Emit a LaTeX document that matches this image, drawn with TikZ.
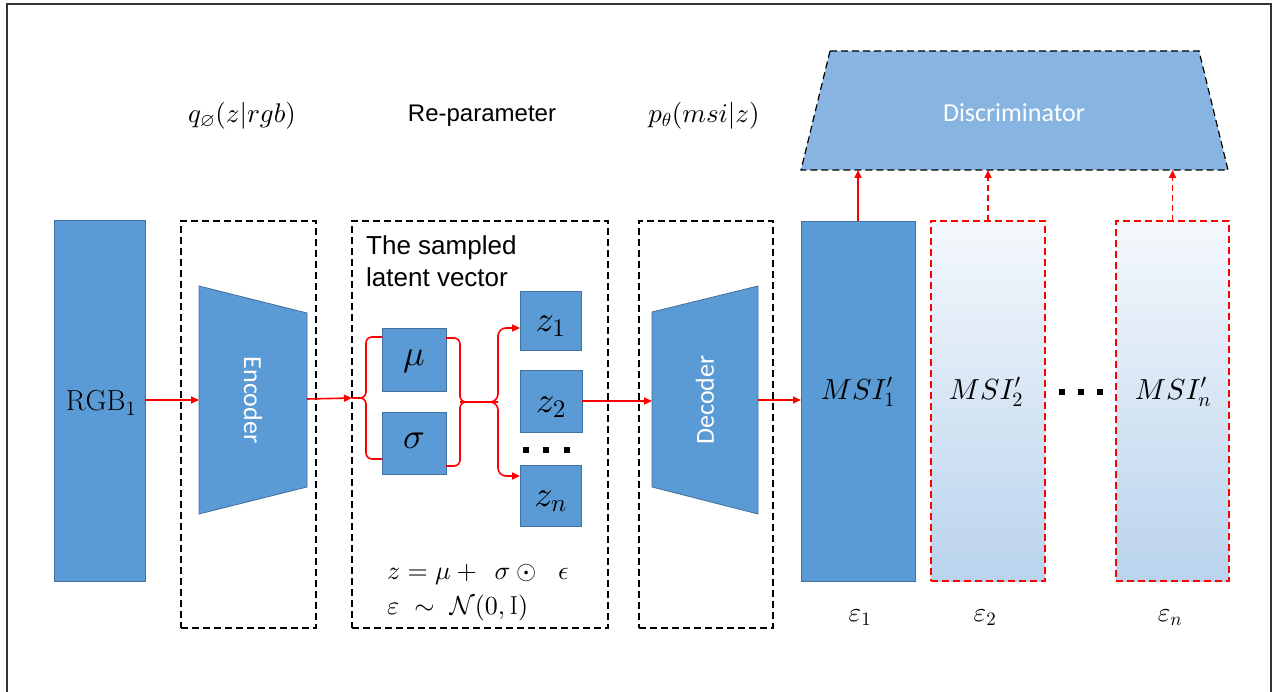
\documentclass[tikz,border=0pt]{standalone}
\usepackage{amssymb}
\usepackage{fontspec}
\DeclareFontShape{OML}{cmm}{m}{it}{<->cmmi10}{}
\DeclareFontShape{OMS}{cmsy}{m}{n}{<->cmsy10}{}
\DeclareFontShape{OT1}{cmr}{m}{n}{<->cmr10}{}
\newfontfamily\calib{Carlito}
\newfontfamily\arialf{Liberation Sans}
\usetikzlibrary{arrows.meta,calc}
\definecolor{boxblue}{HTML}{5B9BD5}
\definecolor{boxedge}{HTML}{41719C}
\definecolor{discblue}{HTML}{87B4E0}
\definecolor{gradtop}{HTML}{F4F8FC}
\definecolor{gradbot}{HTML}{BAD3ED}
\definecolor{framegray}{HTML}{333333}
\begin{document}
\begin{tikzpicture}[x=1pt,y=-1pt,
  solidbox/.style={draw=boxedge, fill=boxblue, line width=0.8pt, inner sep=0pt, outer sep=0pt},
  groupbox/.style={draw=black, line width=1.2pt, dash pattern=on 7pt off 4pt, inner sep=0pt, outer sep=0pt},
  msibox/.style={draw=red, line width=1.3pt, dash pattern=on 7pt off 4pt, top color=gradtop, bottom color=gradbot, inner sep=0pt, outer sep=0pt},
  redarrow/.style={draw=red, line width=1.6pt, -{Triangle[length=8pt,width=7pt]}},
  redline/.style={draw=red, line width=1.6pt},
  dotsq/.style={fill=black, minimum width=6pt, minimum height=6pt, inner sep=0pt},
  bigmath/.style={font=\fontsize{29}{32}\selectfont},
  boxmath/.style={font=\fontsize{36}{40}\selectfont},
  labmath/.style={font=\fontsize{27}{30}\selectfont},
  eqmath/.style={font=\fontsize{26}{30}\selectfont},
  sanslab/.style={font=\arialf\fontsize{26}{32}\selectfont},
  whitelab/.style={text=white, font=\calib\fontsize{26}{30}\selectfont},
  trap/.style={fill=boxblue, draw=boxedge, line width=0.8pt}
]
\useasboundingbox (0,0) rectangle (1273,692);
\fill[white] (0,0) rectangle (1273,692);
\draw[framegray, line width=2pt] (7,692) -- (7,4) -- (1271,4) -- (1271,692);

% group boxes
\node[groupbox, minimum width=135pt, minimum height=407pt] (encbox) at (248.5,424.5) {};
\node[groupbox, minimum width=256pt, minimum height=407pt] (repbox) at (480,424.5) {};
\node[groupbox, minimum width=134pt, minimum height=407pt] (decbox) at (706,424.5) {};

% input
\node[solidbox, minimum width=91pt, minimum height=361pt] (rgb) at (99.5,400.5) {};
\node[bigmath] (rgbt) at (101,403) {$\mathrm{RGB}_1$};

% encoder
\draw[trap] (199,286) -- (307,313) -- (307,487) -- (199,514) -- cycle;
\node[whitelab, rotate=-90] (enct) at (253,400) {Encoder};
\coordinate (encL) at (199,400);
\coordinate (encR) at (307,399);

% decoder
\draw[trap] (652,312) -- (758,286) -- (758,514) -- (652,487) -- cycle;
\node[whitelab, rotate=90] (dect) at (705,400) {Decoder};
\coordinate (decL) at (652,400);
\coordinate (decR) at (758,400);

% outputs
\node[solidbox, minimum width=114pt, minimum height=360pt] (msi1) at (858,401) {};
\node[msibox, minimum width=114pt, minimum height=360pt] (msi2) at (988,401) {};
\node[msibox, minimum width=113pt, minimum height=360pt] (msin) at (1172.5,401) {};
\node[bigmath] (msi1t) at (858,392) {$MSI_1'$};
\node[bigmath] (msi2t) at (986,392) {$MSI_2'$};
\node[bigmath] (msint) at (1173,392) {$MSI_n'$};
\node[dotsq] (md1) at (1062,392) {};
\node[dotsq] (md2) at (1081,392) {};
\node[dotsq] (md3) at (1100,392) {};

% reparameter contents
\node[anchor=north west, align=left, sanslab, inner sep=0pt] (samp) at (366,235) {The sampled\\latent vector};
\node[solidbox, minimum width=64pt, minimum height=63pt] (mu) at (414,359.5) {};
\node[solidbox, minimum width=64pt, minimum height=62pt] (sigma) at (414,443) {};
\node[boxmath] (mut) at (414,361) {$\mu$};
\node[boxmath] (sigmat) at (414,441) {$\sigma$};
\node[solidbox, minimum width=61pt, minimum height=59pt] (z1) at (550.5,320.5) {};
\node[solidbox, minimum width=62pt, minimum height=62pt] (z2) at (551,401) {};
\node[solidbox, minimum width=61pt, minimum height=61pt] (zn) at (550.5,495.5) {};
\node[boxmath] (z1t) at ($(z1)+(0,6)$) {$z_1$};
\node[boxmath] (z2t) at ($(z2)+(0,6)$) {$z_2$};
\node[boxmath] (znt) at ($(zn)+(0,6)$) {$z_n$};
\node[dotsq] (zd1) at (526,450) {};
\node[dotsq] (zd2) at (546,450) {};
\node[dotsq] (zd3) at (567,450) {};
\node[eqmath, anchor=west, inner sep=0pt] (eq1) at (387,574) {$z = \mu + \hspace{12pt}\sigma \odot \hspace{16pt}\epsilon$};
\node[eqmath, anchor=west, inner sep=0pt] (eq2) at (387,608) {$\varepsilon\ \sim\ \mathcal{N}(0,\mathrm{I})$};

% braces and arrows
\coordinate (lbtip) at (352,398);
\coordinate (lb) at (366,398);
\coordinate (rb) at (460,402);
\coordinate (split) at (498,402);
\draw[redarrow] (encR) -- (lbtip);
\draw[redarrow] (rgb.east |- encL) -- (encL);
\draw[redline, rounded corners=6pt] ($(mu.north west)+(0,9)$) -| (lb) -- (lbtip);
\draw[redline, rounded corners=6pt] ($(sigma.south west)+(0,-15)$) -| (lb) -- (lbtip);
\draw[redline, rounded corners=6pt] ($(mu.north east)+(0,10)$) -| (rb) -- (split);
\draw[redline, rounded corners=6pt] ($(sigma.south east)+(0,-8)$) -| (rb) -- (split);
\draw[redarrow, rounded corners=8pt] (rb) -- (split) |- ($(z1.west)+(0,7.5)$);
\draw[redarrow, rounded corners=8pt] (rb) -- (split) |- ($(zn.west)+(0,-19.5)$);
\draw[redarrow] (z2.east) -- (z2.east -| decL);
\draw[redarrow] (decR) -- (decR -| msi1.west);

% discriminator
\draw[fill=discblue, draw=black, line width=1.2pt, dash pattern=on 7pt off 4pt] (830,51) -- (1199,51) -- (1228,170) -- (801,170) -- cycle;
\node[whitelab] (disc) at (1014,113) {Discriminator};
\coordinate (discbot) at (1014,170);
\draw[redarrow] (msi1.north) -- (msi1.north |- discbot);
\draw[redarrow, dash pattern=on 6pt off 4pt] (msi2.north) -- (msi2.north |- discbot);
\draw[redarrow, dash pattern=on 6pt off 4pt] (msin.north) -- (msin.north |- discbot);

% labels
\node[labmath] (qlab) at (242,116) {$q_{\varnothing}(z|rgb)$};
\node[sanslab, font=\arialf\fontsize{24}{28}\selectfont] (replab) at (482,116) {Re-parameter};
\node[labmath] (plab) at (704,116) {$p_\theta(msi|z)$};
\node[labmath] (e1) at (860,618) {$\varepsilon_1$};
\node[labmath] (e2) at (985,618) {$\varepsilon_2$};
\node[labmath] (en) at (1170,618) {$\varepsilon_n$};
\end{tikzpicture}
\end{document}
